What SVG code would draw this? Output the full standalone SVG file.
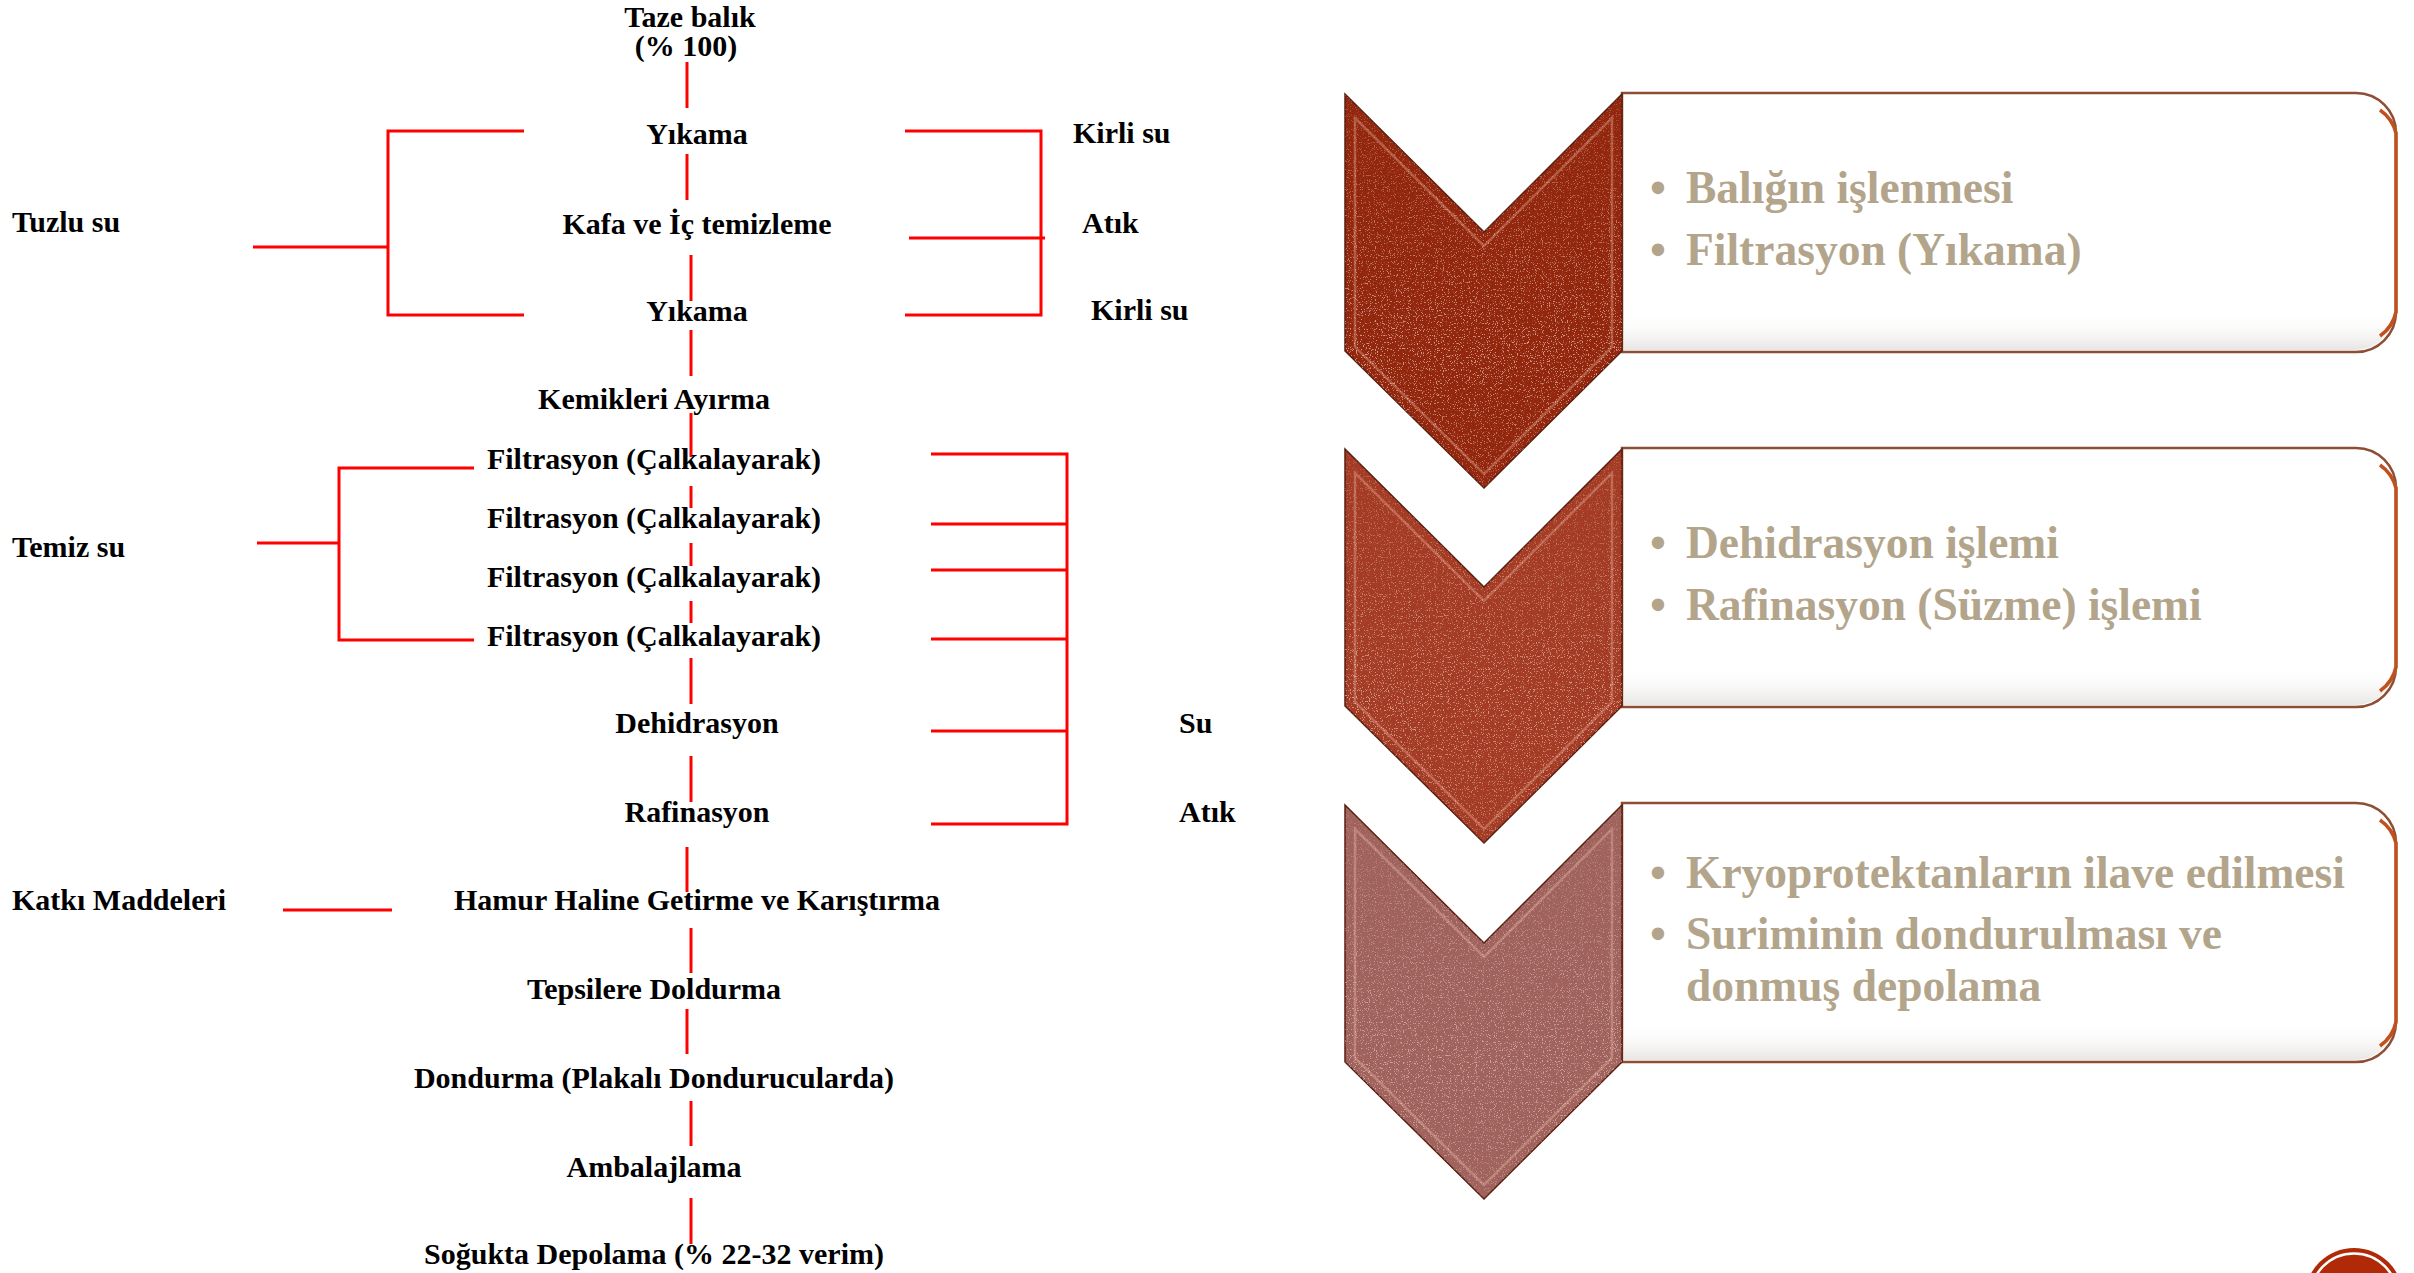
<svg xmlns="http://www.w3.org/2000/svg" width="2414" height="1273" viewBox="0 0 2414 1273">
<style>
.t{font-family:"Liberation Serif","Times New Roman",serif;font-weight:bold;font-size:30px;fill:#000}
.c{text-anchor:middle}
.ln{stroke:#FF0000;stroke-width:3;fill:none}
.b{font-family:"Liberation Serif","Times New Roman",serif;font-weight:bold;font-size:45.5px;fill:#B3A58B}
.box{fill:#FFFFFF;stroke:#8E4E33;stroke-width:2.5}
.redge{fill:none;stroke:#C0501E;stroke-width:3.5}
.bevel{fill:none;stroke:#FFD2BE;stroke-opacity:.3;stroke-width:2.5}
.outl{stroke:#5A1E10;stroke-width:1.5}
</style>
<defs>
<filter id="speck" x="0" y="0" width="100%" height="100%">
<feTurbulence type="fractalNoise" baseFrequency="0.85" numOctaves="2" seed="7" result="n"/>
<feColorMatrix in="n" type="matrix" values="0 0 0 0 1  0 0 0 0 0.92  0 0 0 0 0.88  0 0 0 10 -6.0"/>
</filter>
<linearGradient id="mg" x1="0" y1="0" x2="0" y2="1">
<stop offset="0" stop-color="#fff" stop-opacity=".35"/>
<stop offset=".65" stop-color="#fff" stop-opacity="1"/>
<stop offset="1" stop-color="#fff" stop-opacity=".6"/>
</linearGradient>
<mask id="sm" maskContentUnits="objectBoundingBox"><rect width="1" height="1" fill="url(#mg)"/></mask>
<linearGradient id="boxshade" x1="0" y1="0" x2="0" y2="1">
<stop offset="0" stop-color="#fff" stop-opacity="0"/>
<stop offset=".85" stop-color="#fff" stop-opacity="0"/>
<stop offset="1" stop-color="#d9d4d0" stop-opacity=".6"/>
</linearGradient>
<clipPath id="cc1"><path d="M1345,94 L1484,232 L1622,94 L1622,351 L1484,488 L1345,351 Z"/></clipPath>
<clipPath id="cc2"><path d="M1345,449 L1484,587 L1622,449 L1622,706 L1484,843 L1345,706 Z"/></clipPath>
<clipPath id="cc3"><path d="M1345,805 L1484,943 L1622,805 L1622,1062 L1484,1199 L1345,1062 Z"/></clipPath>
</defs>
<rect width="2414" height="1273" fill="#FFFFFF"/>

<g id="connectors">
<line class="ln" x1="687" y1="62" x2="687" y2="108"/>
<line class="ln" x1="687" y1="154" x2="687" y2="200"/>
<line class="ln" x1="691" y1="255" x2="691" y2="301"/>
<line class="ln" x1="691" y1="330" x2="691" y2="376"/>
<line class="ln" x1="691" y1="413" x2="691" y2="457"/>
<line class="ln" x1="691" y1="486" x2="691" y2="508"/>
<line class="ln" x1="691" y1="543" x2="691" y2="566"/>
<line class="ln" x1="691" y1="601" x2="691" y2="623"/>
<line class="ln" x1="691" y1="658" x2="691" y2="704"/>
<line class="ln" x1="691" y1="756" x2="691" y2="802"/>
<line class="ln" x1="687" y1="847" x2="687" y2="892"/>
<line class="ln" x1="691" y1="928" x2="691" y2="973"/>
<line class="ln" x1="687" y1="1009" x2="687" y2="1054"/>
<line class="ln" x1="691" y1="1101" x2="691" y2="1146"/>
<line class="ln" x1="691" y1="1198" x2="691" y2="1244"/>
<path class="ln" d="M524,131 H388 V315 H524 M253,247 H388"/>
<path class="ln" d="M905,131 H1041 V315 H905 M909,238 H1045"/>
<path class="ln" d="M474,468 H339 V640 H474 M257,543 H339"/>
<path class="ln" d="M931,454 H1067 V824 H931 M931,524 H1067 M931,570 H1067 M931,639 H1067 M931,731 H1067"/>
<line class="ln" x1="283" y1="910" x2="392" y2="910"/>
</g>

<g id="n-taze"><text class="t c" x="690" y="27">Taze balık</text><text class="t c" x="686" y="56">(% 100)</text></g>
<g id="n-yikama1"><text class="t c" x="697" y="144">Yıkama</text></g>
<g id="n-kafa"><text class="t c" x="697" y="234">Kafa ve İç temizleme</text></g>
<g id="n-yikama2"><text class="t c" x="697" y="321">Yıkama</text></g>
<g id="n-kemik"><text class="t c" x="654" y="409">Kemikleri Ayırma</text></g>
<g id="n-filt1"><text class="t c" x="654" y="469">Filtrasyon (Çalkalayarak)</text></g>
<g id="n-filt2"><text class="t c" x="654" y="528">Filtrasyon (Çalkalayarak)</text></g>
<g id="n-filt3"><text class="t c" x="654" y="587">Filtrasyon (Çalkalayarak)</text></g>
<g id="n-filt4"><text class="t c" x="654" y="646">Filtrasyon (Çalkalayarak)</text></g>
<g id="n-dehid"><text class="t c" x="697" y="733">Dehidrasyon</text></g>
<g id="n-rafin"><text class="t c" x="697" y="822">Rafinasyon</text></g>
<g id="n-hamur"><text class="t c" x="697" y="910">Hamur Haline Getirme ve Karıştırma</text></g>
<g id="n-tepsi"><text class="t c" x="654" y="999">Tepsilere Doldurma</text></g>
<g id="n-dond"><text class="t c" x="654" y="1088">Dondurma (Plakalı Dondurucularda)</text></g>
<g id="n-amb"><text class="t c" x="654" y="1177">Ambalajlama</text></g>
<g id="n-soguk"><text class="t c" x="654" y="1264">Soğukta Depolama (% 22-32 verim)</text></g>

<g id="n-tuzlu"><text class="t" x="12" y="232">Tuzlu su</text></g>
<g id="n-temiz"><text class="t" x="12" y="557">Temiz su</text></g>
<g id="n-katki"><text class="t" x="12" y="910">Katkı Maddeleri</text></g>
<g id="n-kirli1"><text class="t" x="1073" y="143">Kirli su</text></g>
<g id="n-atik1"><text class="t" x="1082" y="233">Atık</text></g>
<g id="n-kirli2"><text class="t" x="1091" y="320">Kirli su</text></g>
<g id="n-su"><text class="t" x="1179" y="733">Su</text></g>
<g id="n-atik2"><text class="t" x="1179" y="822">Atık</text></g>

<g id="panel1">
<path class="box" d="M1622,93 H2356 A40,40 0 0 1 2396,133 V312 A40,40 0 0 1 2356,352 H1622 Z"/>
<path d="M1624,95 H2356 A38,38 0 0 1 2394,133 V312 A38,38 0 0 1 2356,350 H1624 Z" fill="url(#boxshade)"/>
<path class="redge" d="M2380,110 A40,40 0 0 1 2396,133 V312 A40,40 0 0 1 2380,336"/>
<path class="outl" fill="#93270E" d="M1345,94 L1484,232 L1622,94 L1622,351 L1484,488 L1345,351 Z"/>
<g clip-path="url(#cc1)"><rect x="1345" y="94" width="277" height="394" filter="url(#speck)" mask="url(#sm)" opacity=".55"/></g>
<path class="bevel" d="M1355,118 L1484,246 L1612,118 L1612,347 L1484,474 L1355,347 Z"/>
<text class="b" x="1650" y="203">•</text><text class="b" x="1686" y="203">Balığın işlenmesi</text>
<text class="b" x="1650" y="265">•</text><text class="b" x="1686" y="265">Filtrasyon (Yıkama)</text>
</g>

<g id="panel2">
<path class="box" d="M1622,448 H2356 A40,40 0 0 1 2396,488 V667 A40,40 0 0 1 2356,707 H1622 Z"/>
<path d="M1624,450 H2356 A38,38 0 0 1 2394,488 V667 A38,38 0 0 1 2356,705 H1624 Z" fill="url(#boxshade)"/>
<path class="redge" d="M2380,465 A40,40 0 0 1 2396,488 V667 A40,40 0 0 1 2380,691"/>
<path class="outl" fill="#A43B24" d="M1345,449 L1484,587 L1622,449 L1622,706 L1484,843 L1345,706 Z"/>
<g clip-path="url(#cc2)"><rect x="1345" y="449" width="277" height="394" filter="url(#speck)" mask="url(#sm)" opacity=".5"/></g>
<path class="bevel" d="M1355,473 L1484,601 L1612,473 L1612,702 L1484,829 L1355,702 Z"/>
<text class="b" x="1650" y="558">•</text><text class="b" x="1686" y="558">Dehidrasyon işlemi</text>
<text class="b" x="1650" y="620">•</text><text class="b" x="1686" y="620">Rafinasyon (Süzme) işlemi</text>
</g>

<g id="panel3">
<path class="box" d="M1622,803 H2356 A40,40 0 0 1 2396,843 V1022 A40,40 0 0 1 2356,1062 H1622 Z"/>
<path d="M1624,805 H2356 A38,38 0 0 1 2394,843 V1022 A38,38 0 0 1 2356,1060 H1624 Z" fill="url(#boxshade)"/>
<path class="redge" d="M2380,820 A40,40 0 0 1 2396,843 V1022 A40,40 0 0 1 2380,1046" stroke="#A86A60"/>
<path class="outl" fill="#A0625C" d="M1345,805 L1484,943 L1622,805 L1622,1062 L1484,1199 L1345,1062 Z"/>
<g clip-path="url(#cc3)"><rect x="1345" y="805" width="277" height="394" filter="url(#speck)" mask="url(#sm)" opacity=".45"/></g>
<path class="bevel" d="M1355,829 L1484,957 L1612,829 L1612,1058 L1484,1185 L1355,1058 Z"/>
<text class="b" x="1650" y="888">•</text><text class="b" x="1686" y="888">Kryoprotektanların ilave edilmesi</text>
<text class="b" x="1650" y="949">•</text><text class="b" x="1686" y="949">Suriminin dondurulması ve</text>
<text class="b" x="1686" y="1001">donmuş depolama</text>
</g>

<g id="corner-badge">
<circle cx="2354" cy="1297" r="49" fill="#B02A08"/>
<circle cx="2354" cy="1297" r="43.5" fill="none" stroke="#FFFFFF" stroke-width="2.5"/>
</g>
</svg>
